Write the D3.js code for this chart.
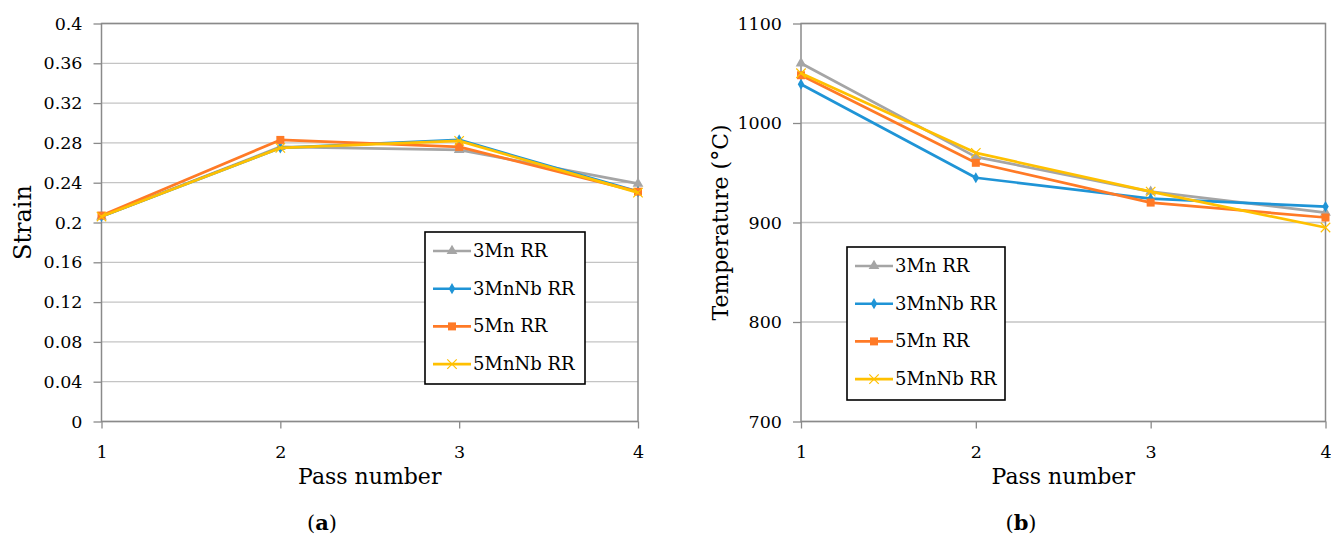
<!DOCTYPE html>
<html>
<head>
<meta charset="utf-8">
<script src="https://cdn.jsdelivr.net/npm/d3@7"></script>
<style>
  body { margin: 0; background: #fff; }
  text { font-family: "DejaVu Serif", "Liberation Serif", serif; fill: #000; }
</style>
</head>
<body>
<svg id="chart" width="1331" height="545"></svg>
<script>
// ---- data ----
const passes = [1, 2, 3, 4];
const seriesNames = ['3Mn RR', '3MnNb RR', '5Mn RR', '5MnNb RR'];
const seriesColors = ['#a5a5a5', '#1f94d6', '#ff7a26', '#ffc000'];

const strain3Mn   = [0.206, 0.276, 0.273, 0.239];
const strain3MnNb = [0.206, 0.275, 0.283, 0.231];
const strain5Mn   = [0.207, 0.283, 0.276, 0.231];
const strain5MnNb = [0.206, 0.275, 0.282, 0.230];
const strainTicks = [0, 0.04, 0.08, 0.12, 0.16, 0.2, 0.24, 0.28, 0.32, 0.36, 0.4];

const temp3Mn   = [1060, 966, 931, 910];
const temp3MnNb = [1039, 945, 924, 916];
const temp5Mn   = [1048, 960, 920, 905];
const temp5MnNb = [1050, 970, 931, 895];
const tempTicks = [700, 800, 900, 1000, 1100];

const svg = d3.select('#chart');

// marker shapes per series
const markerTypes = [d3.symbolTriangle, d3.symbolDiamond, d3.symbolSquare, d3.symbolX || d3.symbolTimes];
const markerSizes = [50, 36, 64, 60];

function drawMarker(g, i, x, y) {
  let path = d3.symbol().type(markerTypes[i]).size(markerSizes[i])();
  let m = g.append('path')
           .attr('d', path)
           .attr('transform', `translate(${x},${y})`);
  if (i === 3) {
    m.attr('fill', 'none').attr('stroke', seriesColors[i]).attr('stroke-width', 1.2);
  } else {
    m.attr('fill', seriesColors[i]);
  }
}

function drawChart(cfg) {
  let g = svg.append('g');

  let x = d3.scaleLinear().domain([1, 4]).range([cfg.left, cfg.right]);
  let y = d3.scaleLinear().domain(cfg.yDomain).range([cfg.bottom, cfg.top]);

  // grid lines
  g.append('g')
   .selectAll('line')
   .data(cfg.yTicks)
   .join('line')
   .attr('x1', cfg.left)
   .attr('x2', cfg.right)
   .attr('y1', d => y(d))
   .attr('y2', d => y(d))
   .attr('stroke', '#c4c4c4')
   .attr('stroke-width', 1.3);

  // frame
  g.append('rect')
   .attr('x', cfg.left)
   .attr('y', cfg.top)
   .attr('width', cfg.right - cfg.left)
   .attr('height', cfg.bottom - cfg.top)
   .attr('fill', 'none')
   .attr('stroke', '#8a8a8a')
   .attr('stroke-width', 1.5);

  // axes
  let yAxis = d3.axisLeft(y)
                .tickValues(cfg.yTicks)
                .tickFormat(cfg.yFormat)
                .tickSize(8)
                .tickPadding(11);
  let xAxis = d3.axisBottom(x)
                .tickValues(passes)
                .tickFormat(d3.format('d'))
                .tickSize(7)
                .tickPadding(17);

  let ya = g.append('g')
            .attr('transform', `translate(${cfg.left},0)`)
            .call(yAxis);
  let xa = g.append('g')
            .attr('transform', `translate(0,${cfg.bottom})`)
            .call(xAxis);

  [ya, xa].forEach(a => {
    a.select('.domain').remove();
    a.selectAll('.tick line').attr('stroke', '#8a8a8a').attr('stroke-width', 1.3);
    a.selectAll('.tick text')
     .attr('font-size', 17.5)
     .attr('fill', '#000');
  });

  // axis titles
  g.append('text')
   .attr('x', (cfg.left + cfg.right) / 2)
   .attr('y', cfg.bottom + 62)
   .attr('text-anchor', 'middle')
   .attr('font-size', 22)
   .text('Pass number');

  g.append('text')
   .attr('transform', `translate(${cfg.yTitleX},${(cfg.top + cfg.bottom) / 2}) rotate(-90)`)
   .attr('text-anchor', 'middle')
   .attr('font-size', cfg.yTitleSize)
   .text(cfg.yTitle);

  // sub caption
  let cap = g.append('text')
             .attr('x', cfg.capX)
             .attr('y', 530)
             .attr('text-anchor', 'middle')
             .attr('font-size', 21);
  cap.append('tspan').text('(');
  cap.append('tspan').attr('font-weight', 'bold').text(cfg.capLetter);
  cap.append('tspan').text(')');

  // series
  let line = d3.line()
               .x((d, i) => x(passes[i]))
               .y(d => y(d));

  cfg.series.forEach((vals, i) => {
    g.append('path')
     .datum(vals)
     .attr('d', line)
     .attr('fill', 'none')
     .attr('stroke', seriesColors[i])
     .attr('stroke-width', 2.7)
     .attr('stroke-linejoin', 'round');
    let mg = g.append('g');
    vals.forEach((v, j) => drawMarker(mg, i, x(passes[j]), y(v)));
  });

  // legend
  let lg = g.append('g');
  lg.append('rect')
    .attr('x', cfg.legend.x)
    .attr('y', cfg.legend.y)
    .attr('width', cfg.legend.w)
    .attr('height', cfg.legend.h)
    .attr('fill', '#fff')
    .attr('stroke', '#000')
    .attr('stroke-width', 1.6);

  seriesNames.forEach((name, i) => {
    let ly = cfg.legend.y + 19 + i * 37.7;
    let lx0 = cfg.legend.x + 8;
    let lx1 = lx0 + 38;
    lg.append('line')
      .attr('x1', lx0).attr('x2', lx1)
      .attr('y1', ly).attr('y2', ly)
      .attr('stroke', seriesColors[i])
      .attr('stroke-width', 2.6);
    drawMarker(lg, i, (lx0 + lx1) / 2, ly);
    lg.append('text')
      .attr('x', lx1 + 2)
      .attr('y', ly + 6)
      .attr('font-size', 18)
      .text(name);
  });
}

drawChart({
  left: 101.5, right: 638, top: 23.5, bottom: 421.5,
  yDomain: [0, 0.4],
  yTicks: strainTicks,
  yFormat: d => String(+d.toFixed(2)),
  yTitle: 'Strain',
  yTitleX: 31,
  yTitleSize: 24,
  capX: 322, capLetter: 'a',
  series: [strain3Mn, strain3MnNb, strain5Mn, strain5MnNb],
  legend: { x: 425, y: 232, w: 160, h: 152 }
});

drawChart({
  left: 801, right: 1325.5, top: 23.5, bottom: 421.5,
  yDomain: [700, 1100],
  yTicks: tempTicks,
  yFormat: d3.format('d'),
  yTitle: 'Temperature (°C)',
  yTitleX: 728,
  yTitleSize: 22,
  capX: 1021, capLetter: 'b',
  series: [temp3Mn, temp3MnNb, temp5Mn, temp5MnNb],
  legend: { x: 847, y: 247, w: 158, h: 153 }
});
</script>
</body>
</html>
